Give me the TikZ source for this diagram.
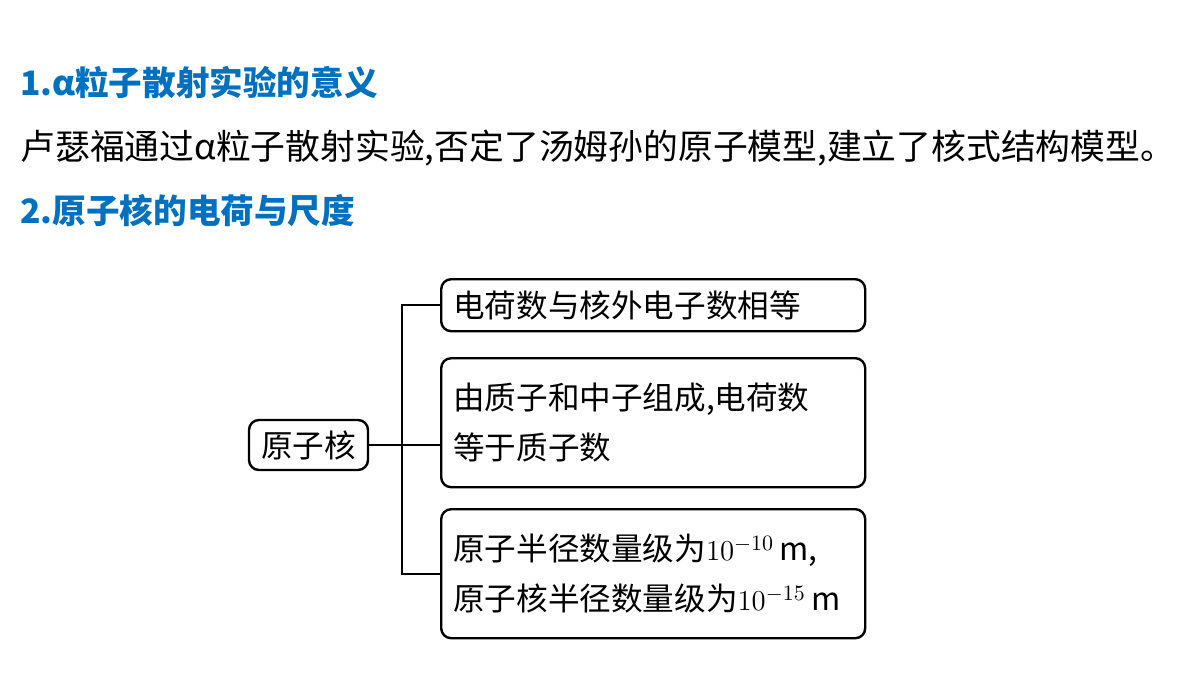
\documentclass[tikz,border=0pt]{standalone}
\usepackage{fontspec}
\setmainfont{Noto Sans CJK SC}
\usetikzlibrary{positioning}
\definecolor{headblue}{RGB}{0,112,192}
\tikzset{
  item/.style={draw, line width=1.2pt, rounded corners=5pt, anchor=north west,
    minimum width=210.5pt, text width=200pt, align=left, inner xsep=6pt, font=\fontsize{15.8}{25}\selectfont},
  head/.style={anchor=west, inner sep=0pt, text=headblue, font=\bfseries\fontsize{16.8}{18}\selectfont},
  link/.style={line width=1.2pt}
}
\begin{document}
\begin{tikzpicture}[x=0.5pt,y=-0.5pt]
 \useasboundingbox (0,0) rectangle (1200,675);
 \node[head] (h1) at (20,83) {1.α粒子散射实验的意义};
 \node[anchor=west, inner sep=0pt, font=\fontsize{17.4}{18}\selectfont] (t1) at (20,148) {卢瑟福通过α粒子散射实验,否定了汤姆孙的原子模型,建立了核式结构模型。};
 \node[head] (h2) at (20,211) {2.原子核的电荷与尺度};

 \node[draw, line width=1.2pt, rounded corners=5pt, minimum width=59.5pt, minimum height=25pt,
   font=\fontsize{15.8}{16}\selectfont] (root) at (308.5,445) {原子核};

 \node[item, minimum height=26pt] (b1) at (440,278) {电荷数与核外电子数相等};
 \node[item, minimum height=64.5pt] (b2) at (440,357) {由质子和中子组成,电荷数\\等于质子数};
 \node[item, minimum height=64.5pt] (b3) at (440,508) {原子半径数量级为$10^{-10}$\,m,\\原子核半径数量级为$10^{-15}$\,m};

 \coordinate (fork) at (402,445);
 \draw[link] (root.east) -- (root.east -| b2.west);
 \draw[link] (b1.west) -| (fork) |- (b3.west);
\end{tikzpicture}
\end{document}
